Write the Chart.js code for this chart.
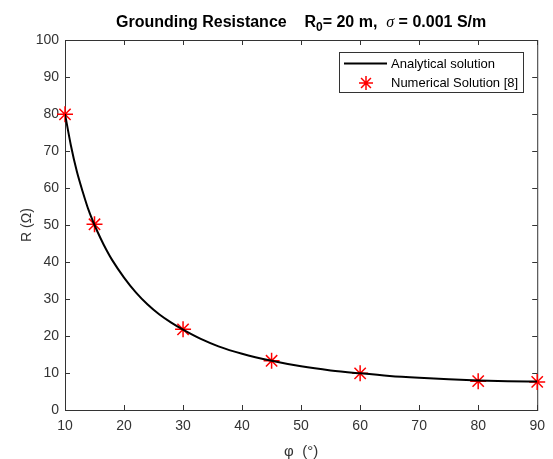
<!DOCTYPE html>
<html>
<head>
<meta charset="utf-8">
<script src="https://cdn.jsdelivr.net/npm/chart.js@4.4.1/dist/chart.umd.min.js"></script>
<style>
body { margin: 0; background: #fff; }
</style>
</head>
<body>
<canvas id="canvas" width="553" height="459"></canvas>
<script>
// analytical curve
var curvePhi = [10, 11, 12, 13, 14, 15, 16, 17, 18, 20, 22, 24, 26, 28, 30, 33, 36, 40, 45, 50, 55, 60, 65, 70, 75, 80, 85, 90];
var curveR = [80, 71.5, 64.5, 59, 54, 50, 46.5, 43.3, 40.5, 35.8, 31.8, 28.5, 25.8, 23.6, 21.7, 19.2, 17.2, 15.2, 13.3, 11.8, 10.7, 9.9, 9.2, 8.7, 8.3, 8.0, 7.8, 7.7];

// numerical solution [8]
var numPhi = [10, 15, 30, 45, 60, 80, 90];
var numR = [79.9, 50.2, 21.8, 13.3, 9.9, 7.8, 7.6];

var xTicks = [10, 20, 30, 40, 50, 60, 70, 80, 90];
var yTicks = [0, 10, 20, 30, 40, 50, 60, 70, 80, 90, 100];

var axisColor = '#333333';
var fontFam = '"Liberation Sans", Arial, Helvetica, sans-serif';

function toPoints(xs, ys) {
    var pts = [];
    for (var i = 0; i < xs.length; i++) pts.push({x: xs[i], y: ys[i]});
    return pts;
}

function drawStar(ctx, x, y, r) {
    ctx.beginPath();
    for (var k = 0; k < 4; k++) {
        var a = k * Math.PI / 4;
        ctx.moveTo(x - r * Math.cos(a), y - r * Math.sin(a));
        ctx.lineTo(x + r * Math.cos(a), y + r * Math.sin(a));
    }
    ctx.stroke();
}

// box + inward ticks on all four sides (matlab style)
var boxPlugin = {
    id: 'box',
    beforeDatasetsDraw: function(chart) {
        var ctx = chart.ctx, a = chart.chartArea;
        var xs = chart.scales.x, ys = chart.scales.y;
        ctx.save();
        ctx.strokeStyle = axisColor;
        ctx.lineWidth = 1;
        ctx.strokeRect(a.left + 0.5, a.top + 0.5, a.right - a.left, a.bottom - a.top);
        ctx.beginPath();
        xTicks.forEach(function(v) {
            var px = Math.round(xs.getPixelForValue(v)) + 0.5;
            ctx.moveTo(px, a.bottom); ctx.lineTo(px, a.bottom - 5);
            ctx.moveTo(px, a.top); ctx.lineTo(px, a.top + 5);
        });
        yTicks.forEach(function(v) {
            var py = Math.round(ys.getPixelForValue(v)) + 0.5;
            ctx.moveTo(a.left, py); ctx.lineTo(a.left + 5, py);
            ctx.moveTo(a.right, py); ctx.lineTo(a.right - 5, py);
        });
        ctx.stroke();
        ctx.restore();
    },
    afterDraw: function(chart) {
        var ctx = chart.ctx, a = chart.chartArea;
        ctx.save();

        // title with subscript and sigma
        var parts = [
            ['Grounding Resistance    R', 'bold 16px ' + fontFam, 0],
            ['0', 'bold 12px ' + fontFam, 4],
            ['= 20 m,  ', 'bold 16px ' + fontFam, 0],
            ['\u03c3', 'italic 16px "Liberation Serif", "DejaVu Serif", serif', 0],
            [' = 0.001 S/m', 'bold 16px ' + fontFam, 0]
        ];
        var total = 0;
        parts.forEach(function(p) { ctx.font = p[1]; p.w = ctx.measureText(p[0]).width; total += p.w; });
        var tx = (a.left + a.right) / 2 - total / 2;
        ctx.fillStyle = '#000';
        ctx.textBaseline = 'alphabetic';
        ctx.textAlign = 'left';
        parts.forEach(function(p) {
            ctx.font = p[1];
            ctx.fillText(p[0], tx, 27 + p[2]);
            tx += p.w;
        });

        // legend box
        var lx = 339.5, ly = 52.5, lw = 184, lh = 40;
        ctx.fillStyle = '#fff';
        ctx.fillRect(lx, ly, lw, lh);
        ctx.strokeStyle = axisColor;
        ctx.lineWidth = 1;
        ctx.strokeRect(lx, ly, lw, lh);

        var ds = chart.data.datasets;
        ctx.font = '13px ' + fontFam;
        ctx.textBaseline = 'middle';
        ctx.fillStyle = '#000';

        ctx.strokeStyle = ds[0].borderColor;
        ctx.lineWidth = 2;
        ctx.beginPath();
        ctx.moveTo(344, 63.5); ctx.lineTo(387, 63.5);
        ctx.stroke();
        ctx.fillText(ds[0].label, 391, 64);

        ctx.strokeStyle = ds[1].pointBorderColor;
        ctx.lineWidth = 1.5;
        drawStar(ctx, 366, 83, 7);
        ctx.fillText(ds[1].label, 391, 83);

        ctx.restore();
    }
};

var config = {
    type: 'scatter',
    data: {
        datasets: [{
            label: 'Analytical solution',
            data: toPoints(curvePhi, curveR),
            showLine: true,
            borderColor: '#000',
            borderWidth: 2,
            pointRadius: 0,
            cubicInterpolationMode: 'monotone',
            fill: false
        }, {
            label: 'Numerical Solution [8]',
            data: toPoints(numPhi, numR),
            showLine: false,
            pointStyle: 'star',
            pointRadius: 8,
            pointBorderColor: '#ff0000',
            pointBackgroundColor: '#ff0000',
            pointBorderWidth: 1.5,
            clip: false
        }]
    },
    options: {
        responsive: false,
        animation: false,
        devicePixelRatio: 1,
        layout: {
            padding: {top: 40, right: 15, left: 0, bottom: 0}
        },
        plugins: {
            legend: { display: false },
            title: { display: false },
            tooltip: { enabled: false }
        },
        scales: {
            x: {
                type: 'linear',
                min: 10,
                max: 90,
                afterBuildTicks: function(scale) {
                    scale.ticks = xTicks.map(function(v) { return {value: v}; });
                },
                afterFit: function(scale) { scale.height = 49; },
                grid: { display: false, drawTicks: false },
                border: { display: false },
                ticks: {
                    color: axisColor,
                    font: { size: 14, family: fontFam },
                    padding: 8,
                    maxRotation: 0
                },
                title: {
                    display: true,
                    text: '\u03c6  (\u00b0)',
                    color: axisColor,
                    font: { size: 15, family: fontFam, lineHeight: 1 },
                    padding: { top: 0, bottom: 0 }
                }
            },
            y: {
                type: 'linear',
                min: 0,
                max: 100,
                afterBuildTicks: function(scale) {
                    scale.ticks = yTicks.map(function(v) { return {value: v}; });
                },
                afterFit: function(scale) { scale.width = 65; },
                grid: { display: false, drawTicks: false },
                border: { display: false },
                ticks: {
                    color: axisColor,
                    font: { size: 14, family: fontFam },
                    padding: 6
                },
                title: {
                    display: true,
                    text: 'R (\u03a9)',
                    color: axisColor,
                    font: { size: 14, family: fontFam },
                    padding: { top: 19, bottom: 0 }
                }
            }
        }
    },
    plugins: [boxPlugin]
};

window.onload = function() {
    var ctx = document.getElementById('canvas').getContext('2d');
    window.myChart = new Chart(ctx, config);
};
</script>
</body>
</html>
